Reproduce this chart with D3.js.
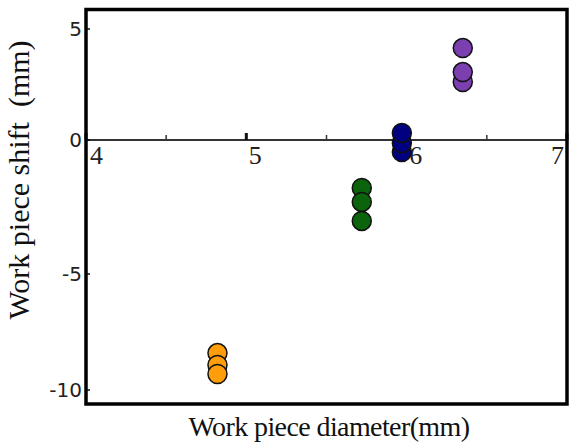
<!DOCTYPE html>
<html>
<head>
<meta charset="utf-8">
<script src="https://cdn.jsdelivr.net/npm/d3@7"></script>
<style>
  body { margin: 0; background: #fff; }
</style>
</head>
<body>
<script>
var diameters = [4.82, 5.72, 5.97, 6.35];
var shifts = [
  [-8.41, -8.92, -9.31],
  [-1.79, -2.31, -3.02],
  [-0.45, -0.11, 0.32],
  [2.61, 3.06, 4.14]
];
var colors = ["#ff9e0a", "#0b640b", "#000080", "#7b3fb0"];
var xTicks = [4, 5, 6, 7];
var xMinor = [4.5, 5.5, 6.5];
var yTicks = [5, 0, -5, -10];

var width = 572, height = 444;
var plotLeft = 86, plotRight = 567, plotTop = 9.5, plotBottom = 404;

var svg = d3.select("body").append("svg")
  .attr("width", width)
  .attr("height", height);

var x = d3.scaleLinear().domain([4, 7]).range([plotLeft, plotRight]);
// the source axis is not evenly spaced, so the scale is piecewise
var y = d3.scaleLinear()
  .domain([5.9, 5, 0, -5, -10, -10.6])
  .range([plotTop, 29, 140, 274, 390, plotBottom]);

// zero line with ticks
svg.append("line")
  .attr("x1", plotLeft).attr("x2", plotRight)
  .attr("y1", y(0)).attr("y2", y(0))
  .attr("stroke", "#333").attr("stroke-width", 2);

svg.selectAll(".minor").data(xMinor).enter().append("line")
  .attr("x1", function(d) { return x(d); })
  .attr("x2", function(d) { return x(d); })
  .attr("y1", y(0)).attr("y2", y(0) - 5)
  .attr("stroke", "#333").attr("stroke-width", 1.5);

svg.selectAll(".major").data(xTicks).enter().append("line")
  .attr("x1", function(d) { return x(d); })
  .attr("x2", function(d) { return x(d); })
  .attr("y1", y(0)).attr("y2", y(0) - 7)
  .attr("stroke", "#111").attr("stroke-width", 3);

// x labels sit just under the zero line
svg.selectAll(".xlab").data(xTicks).enter().append("text")
  .attr("x", function(d, i) {
    if (i == 0) return x(d) + 4;
    if (i == xTicks.length - 1) return x(d) - 3;
    return x(d) + 9;
  })
  .attr("y", y(0) + 24)
  .attr("text-anchor", function(d, i) {
    if (i == 0) return "start";
    if (i == xTicks.length - 1) return "end";
    return "middle";
  })
  .style("font-family", "'Liberation Serif', serif")
  .style("font-size", "26px")
  .attr("fill", "#222")
  .text(function(d) { return d; });

// y ticks and labels
svg.selectAll(".ytick").data(yTicks).enter().append("line")
  .attr("x1", plotLeft).attr("x2", plotLeft + 4)
  .attr("y1", function(d) { return y(d); })
  .attr("y2", function(d) { return y(d); })
  .attr("stroke", "#111").attr("stroke-width", 1.5);

svg.selectAll(".ylab").data(yTicks).enter().append("text")
  .attr("x", plotLeft - 4)
  .attr("y", function(d) { return y(d) + 7; })
  .attr("text-anchor", "end")
  .style("font-family", "'DejaVu Sans', sans-serif")
  .style("font-size", "20px")
  .attr("fill", "#222")
  .text(function(d) { return d; });

// points
var pts = [];
shifts.forEach(function(g, i) {
  g.forEach(function(v) { pts.push({ d: diameters[i], s: v, c: colors[i] }); });
});

svg.selectAll(".pt").data(pts).enter().append("circle")
  .attr("cx", function(d) { return x(d.d); })
  .attr("cy", function(d) { return y(d.s); })
  .attr("r", 9.5)
  .attr("fill", function(d) { return d.c; })
  .attr("stroke", "#111")
  .attr("stroke-width", 1.5);

// frame
svg.append("rect")
  .attr("x", plotLeft).attr("y", plotTop)
  .attr("width", plotRight - plotLeft).attr("height", plotBottom - plotTop)
  .attr("fill", "none")
  .attr("stroke", "#000")
  .attr("stroke-width", 3.5);

// axis titles
svg.append("text")
  .attr("transform", "translate(29,180) rotate(-90)")
  .attr("text-anchor", "middle")
  .style("font-family", "'Liberation Serif', serif")
  .style("font-size", "30px")
  .style("white-space", "pre")
  .attr("fill", "#111")
  .text("Work piece shift  (mm)");

svg.append("text")
  .attr("x", 329).attr("y", 436)
  .attr("text-anchor", "middle")
  .style("font-family", "'Liberation Serif', serif")
  .style("font-size", "28px")
  .style("letter-spacing", "-0.6px")
  .attr("fill", "#111")
  .text("Work piece diameter(mm)");
</script>
</body>
</html>
